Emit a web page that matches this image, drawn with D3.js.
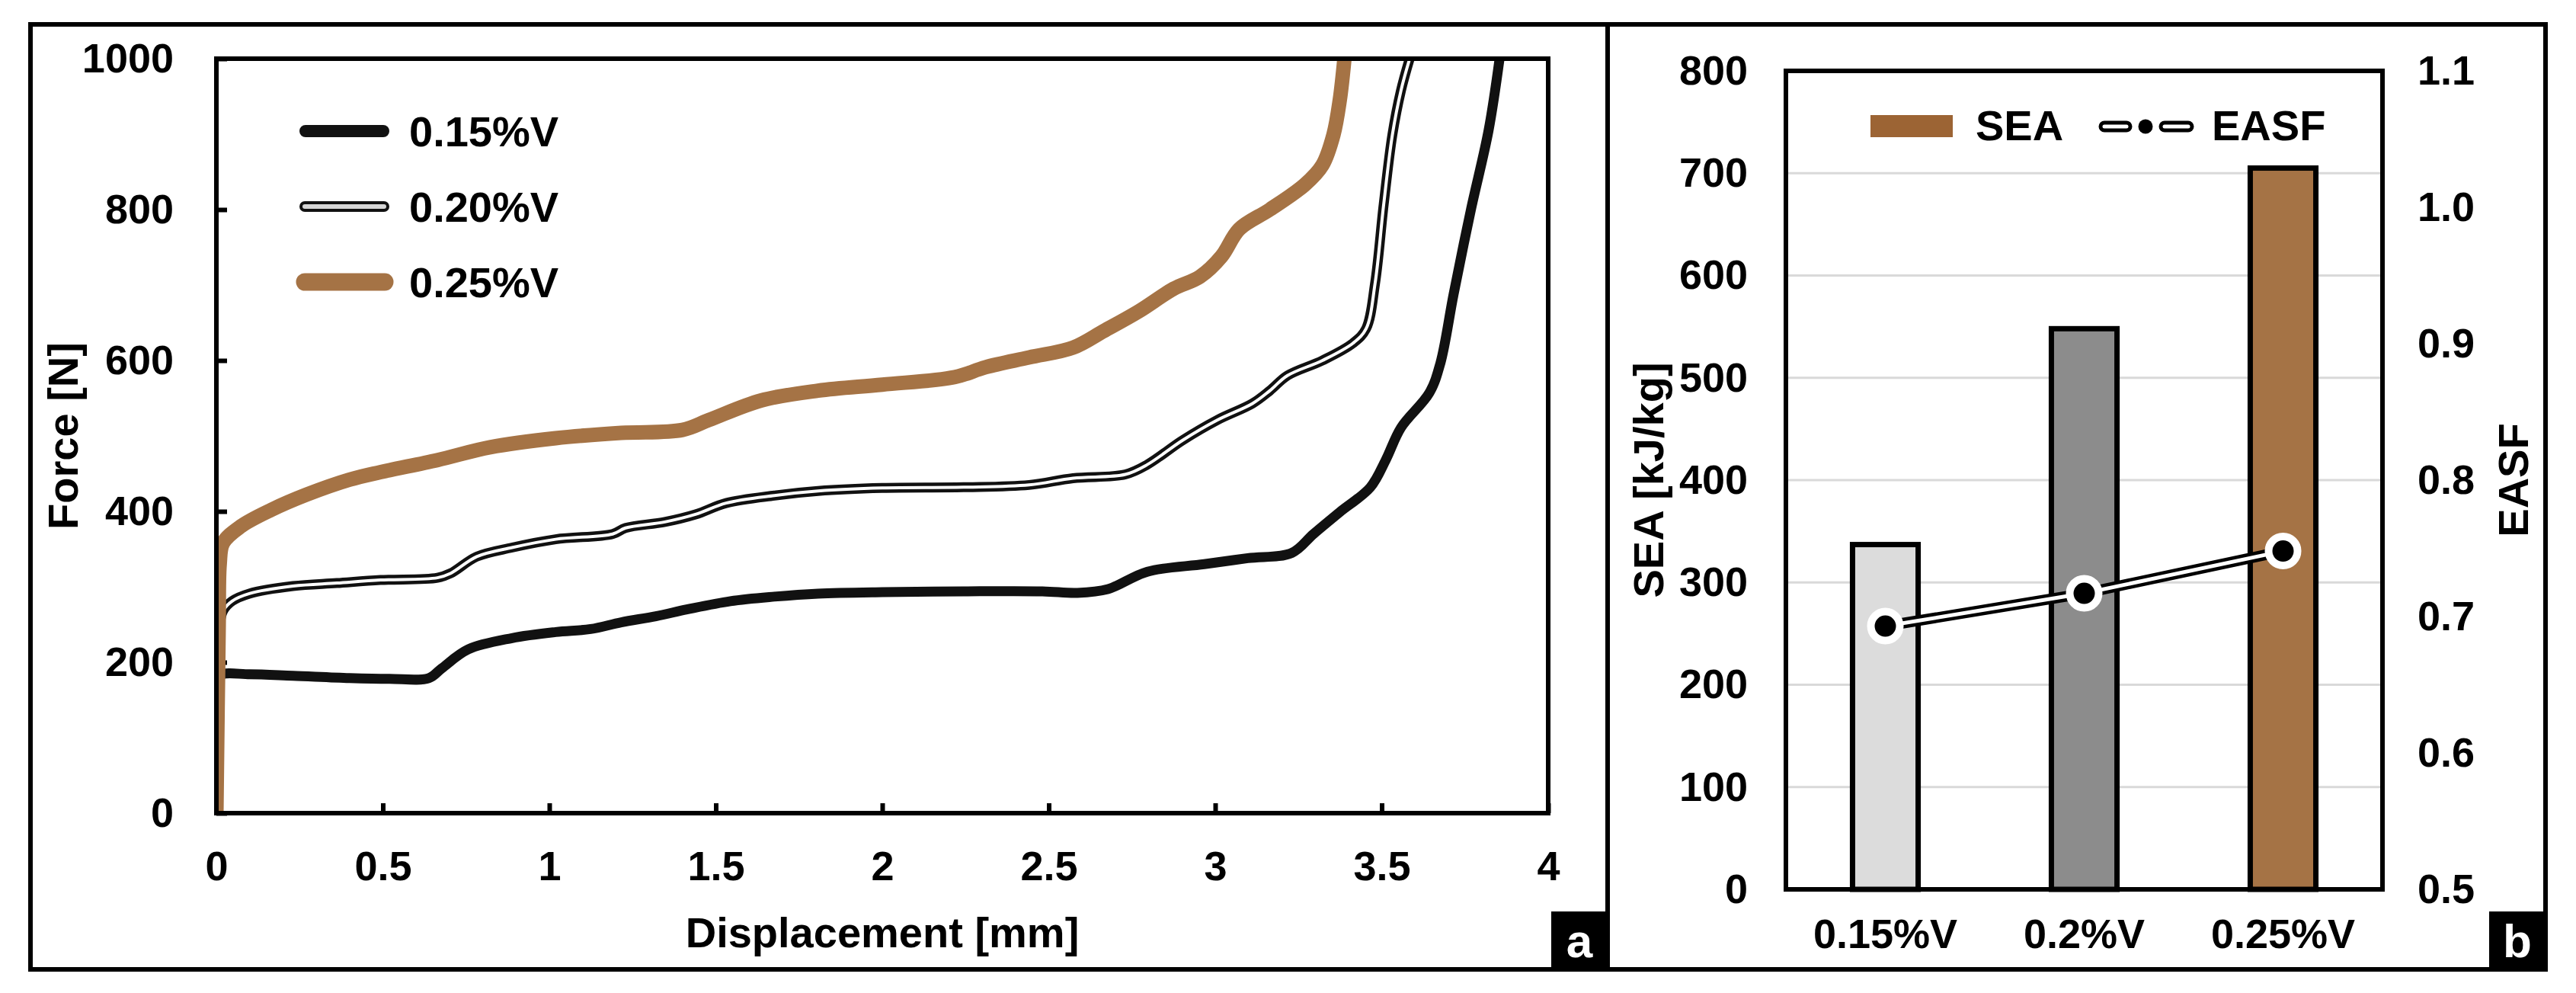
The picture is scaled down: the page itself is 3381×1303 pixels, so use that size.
<!DOCTYPE html>
<html>
<head>
<meta charset="utf-8">
<script src="https://d3js.org/d3.v7.min.js"></script>
<style>
  body { margin: 0; background: #fff; }
  svg text { font-family: Arial, "Liberation Sans", sans-serif; fill: #000; }
  .tick text { font-size: 54px; font-weight: bold; }
  .title { font-size: 56px; font-weight: bold; }
  .legend { font-size: 56px; font-weight: bold; }
</style>
</head>
<body>
<svg id="fig" width="3381" height="1303"></svg>
<script>
// ---- panel a: force vs displacement ----
var disp015 = [0, 0.007, 0.015, 0.1, 0.23, 0.4, 0.52, 0.638, 0.677, 0.756, 0.888, 1.019, 1.124, 1.216, 1.32, 1.413, 1.544, 1.676, 1.807, 2.0, 2.244, 2.481, 2.586, 2.678, 2.796, 2.967, 3.098, 3.23, 3.295, 3.374, 3.466, 3.512, 3.558, 3.643, 3.676, 3.716, 3.768, 3.821, 3.854];
var force015 = [0, 170, 183, 184, 182, 179, 178, 179, 192, 217, 232, 240, 244, 253, 261, 270, 281, 287, 291, 293, 294, 294, 292, 297, 320, 330, 338, 345, 370, 399, 432, 468, 511, 557, 596, 688, 800, 905, 1000];

var disp020 = [0, 0.007, 0.01, 0.02, 0.047, 0.099, 0.23, 0.362, 0.493, 0.664, 0.704, 0.782, 0.888, 1.019, 1.19, 1.229, 1.347, 1.439, 1.531, 1.676, 1.807, 2.0, 2.244, 2.441, 2.573, 2.73, 2.796, 2.901, 3.006, 3.112, 3.164, 3.217, 3.322, 3.414, 3.453, 3.48, 3.506, 3.532, 3.558, 3.584];
var force020 = [0, 200, 250, 268, 281, 291, 301, 305, 309, 312, 318, 340, 352, 363, 370, 378, 386, 396, 411, 421, 427, 431, 432, 435, 444, 449, 462, 494, 521, 543, 560, 580, 600, 623, 642, 702, 807, 899, 958, 1000];

var disp025 = [0, 0.007, 0.01, 0.02, 0.073, 0.165, 0.27, 0.40, 0.493, 0.664, 0.822, 1.019, 1.216, 1.40, 1.479, 1.636, 1.807, 2.0, 2.218, 2.31, 2.441, 2.573, 2.665, 2.77, 2.875, 2.954, 3.019, 3.072, 3.164, 3.269, 3.322, 3.355, 3.374, 3.388];
var force025 = [0, 250, 330, 358, 380, 402, 422, 442, 452, 468, 485, 497, 504, 508, 521, 547, 560, 568, 578, 591, 604, 617, 639, 665, 695, 711, 738, 774, 800, 833, 859, 899, 945, 1000];

var seriesNames = ["0.15%V", "0.20%V", "0.25%V"];
var xTicksA = [0, 0.5, 1, 1.5, 2, 2.5, 3, 3.5, 4];
var yTicksA = [0, 200, 400, 600, 800, 1000];

// ---- panel b: SEA bars + EASF line ----
var categories = ["0.15%V", "0.2%V", "0.25%V"];
var seaValues = [337, 548, 705];
var easfValues = [0.693, 0.717, 0.748];
var barColors = ["#dcdcdc", "#8c8c8c", "#a57345"];
var yTicksSEA = [0, 100, 200, 300, 400, 500, 600, 700, 800];
var yTicksEASF = [0.5, 0.6, 0.7, 0.8, 0.9, 1.0, 1.1];

var brown = "#a57345";
var svg = d3.select("#fig");

// outer figure frame with divider
svg.append("rect").attr("x", 40).attr("y", 32).attr("width", 3301).attr("height", 1240)
  .attr("fill", "none").attr("stroke", "#000").attr("stroke-width", 6);
svg.append("line").attr("x1", 2110).attr("x2", 2110).attr("y1", 32).attr("y2", 1272)
  .attr("stroke", "#000").attr("stroke-width", 6);

// ================= panel a =================
var xA = d3.scaleLinear().domain([0, 4]).range([284, 2032]);
var yA = d3.scaleLinear().domain([0, 1000]).range([1067, 77]);

svg.append("clipPath").attr("id", "clipA").append("rect")
  .attr("x", 284).attr("y", 77).attr("width", 1748).attr("height", 990);

var gA = svg.append("g");

gA.append("g").attr("transform", "translate(284,0)")
  .call(d3.axisLeft(yA).tickValues(yTicksA).tickSize(-14).tickPadding(56).tickFormat(d3.format("d")))
  .call(function(g) { g.select(".domain").remove(); })
  .call(function(g) { g.selectAll(".tick line").attr("stroke-width", 6); })
  .call(function(g) { g.selectAll(".tick text").attr("font-family", null).attr("font-size", null); });

gA.append("g").attr("transform", "translate(0,1067)")
  .call(d3.axisBottom(xA).tickValues(xTicksA).tickSize(-13).tickPadding(50).tickFormat(d3.format("")))
  .call(function(g) { g.select(".domain").remove(); })
  .call(function(g) { g.selectAll(".tick line").attr("stroke-width", 6); })
  .call(function(g) { g.selectAll(".tick text").attr("font-family", null).attr("font-size", null); });

var lineA = d3.line()
  .x(function(d) { return xA(d[0]); })
  .y(function(d) { return yA(d[1]); })
  .curve(d3.curveCatmullRom.alpha(0.5));

var pts015 = d3.zip(disp015, force015);
var pts020 = d3.zip(disp020, force020);
var pts025 = d3.zip(disp025, force025);

var curves = gA.append("g").attr("clip-path", "url(#clipA)");
curves.append("path").datum(pts015).attr("d", lineA)
  .attr("fill", "none").attr("stroke", "#111").attr("stroke-width", 13);
curves.append("path").datum(pts020).attr("d", lineA)
  .attr("fill", "none").attr("stroke", "#111").attr("stroke-width", 13);
curves.append("path").datum(pts020).attr("d", lineA)
  .attr("fill", "none").attr("stroke", "#fff").attr("stroke-width", 4);
curves.append("path").datum(pts025).attr("d", lineA)
  .attr("fill", "none").attr("stroke", brown).attr("stroke-width", 19);

// plot border
gA.append("rect").attr("x", 284).attr("y", 77).attr("width", 1748).attr("height", 990)
  .attr("fill", "none").attr("stroke", "#000").attr("stroke-width", 6);

// legend a
var legY = [172, 271, 370];
var legA = gA.append("g");
legA.append("line").attr("x1", 401).attr("x2", 503).attr("y1", legY[0]).attr("y2", legY[0])
  .attr("stroke", "#111").attr("stroke-width", 16).attr("stroke-linecap", "round");
legA.append("line").attr("x1", 400).attr("x2", 504).attr("y1", legY[1]).attr("y2", legY[1])
  .attr("stroke", "#111").attr("stroke-width", 14).attr("stroke-linecap", "round");
legA.append("line").attr("x1", 400).attr("x2", 504).attr("y1", legY[1]).attr("y2", legY[1])
  .attr("stroke", "#d6d6d6").attr("stroke-width", 6).attr("stroke-linecap", "round");
legA.append("line").attr("x1", 400).attr("x2", 505).attr("y1", legY[2]).attr("y2", legY[2])
  .attr("stroke", brown).attr("stroke-width", 23).attr("stroke-linecap", "round");
legA.selectAll("text.legend").data(seriesNames).enter().append("text")
  .attr("class", "legend").attr("x", 537)
  .attr("y", function(d, i) { return legY[i] + 20; })
  .text(function(d) { return d; });

gA.append("text").attr("class", "title").attr("text-anchor", "middle")
  .attr("transform", "translate(102,572) rotate(-90)").text("Force [N]");
gA.append("text").attr("class", "title").attr("text-anchor", "middle")
  .attr("x", 1158).attr("y", 1243).text("Displacement [mm]");

// panel tag a
svg.append("rect").attr("x", 2036).attr("y", 1196).attr("width", 74).attr("height", 76).attr("fill", "#000");
svg.append("text").attr("x", 2073).attr("y", 1256).attr("text-anchor", "middle")
  .style("fill", "#fff").style("font-size", "62px").style("font-weight", "bold").text("a");

// ================= panel b =================
var xB = d3.scaleBand().domain(categories).range([2344, 3127]);
var yB = d3.scaleLinear().domain([0, 800]).range([1167, 93]);
var yB2 = d3.scaleLinear().domain([0.5, 1.1]).range([1167, 93]);
var barW = xB.bandwidth() * 0.33;

var gB = svg.append("g");

gB.selectAll("line.grid").data(yTicksSEA.slice(1, -1)).enter().append("line")
  .attr("class", "grid")
  .attr("x1", 2344).attr("x2", 3127)
  .attr("y1", function(d) { return yB(d); }).attr("y2", function(d) { return yB(d); })
  .attr("stroke", "#d9d9d9").attr("stroke-width", 3);

gB.append("g").attr("transform", "translate(2344,0)")
  .call(d3.axisLeft(yB).tickValues(yTicksSEA).tickSize(0).tickPadding(50))
  .call(function(g) { g.select(".domain").remove(); })
  .call(function(g) { g.selectAll(".tick text").attr("font-family", null).attr("font-size", null); });

gB.append("g").attr("transform", "translate(3127,0)")
  .call(d3.axisRight(yB2).tickValues(yTicksEASF).tickSize(0).tickPadding(46).tickFormat(d3.format(".1f")))
  .call(function(g) { g.select(".domain").remove(); })
  .call(function(g) { g.selectAll(".tick text").attr("font-family", null).attr("font-size", null); });

gB.append("g").attr("transform", "translate(0,1167)")
  .call(d3.axisBottom(xB).tickSize(0).tickPadding(39))
  .call(function(g) { g.select(".domain").remove(); })
  .call(function(g) { g.selectAll(".tick text").attr("font-family", null).attr("font-size", null); });

gB.selectAll("rect.bar").data(seaValues).enter().append("rect")
  .attr("class", "bar")
  .attr("x", function(d, i) { return xB(categories[i]) + xB.bandwidth() / 2 - barW / 2; })
  .attr("y", function(d) { return yB(d); })
  .attr("width", barW)
  .attr("height", function(d) { return yB(0) - yB(d); })
  .attr("fill", function(d, i) { return barColors[i]; })
  .attr("stroke", "#000").attr("stroke-width", 7);

var lineB = d3.line()
  .x(function(d, i) { return xB(categories[i]) + xB.bandwidth() / 2; })
  .y(function(d) { return yB2(d); });

gB.append("path").datum(easfValues).attr("d", lineB)
  .attr("fill", "none").attr("stroke", "#000").attr("stroke-width", 14);
gB.append("path").datum(easfValues).attr("d", lineB)
  .attr("fill", "none").attr("stroke", "#fff").attr("stroke-width", 5);

gB.selectAll("circle.pt").data(easfValues).enter().append("circle")
  .attr("class", "pt")
  .attr("cx", function(d, i) { return xB(categories[i]) + xB.bandwidth() / 2; })
  .attr("cy", function(d) { return yB2(d); })
  .attr("r", 19)
  .attr("fill", "#000").attr("stroke", "#fff").attr("stroke-width", 10);

gB.append("rect").attr("x", 2344).attr("y", 93).attr("width", 783).attr("height", 1074)
  .attr("fill", "none").attr("stroke", "#000").attr("stroke-width", 6);

// legend b
gB.append("rect").attr("x", 2455).attr("y", 151).attr("width", 108).attr("height", 29).attr("fill", "#9c6434");
gB.append("text").attr("class", "legend").attr("x", 2593).attr("y", 184).text("SEA");
[[2762, 2791], [2841, 2872]].forEach(function(s) {
  gB.append("line").attr("x1", s[0]).attr("x2", s[1]).attr("y1", 166).attr("y2", 166)
    .attr("stroke", "#000").attr("stroke-width", 15).attr("stroke-linecap", "round");
  gB.append("line").attr("x1", s[0]).attr("x2", s[1]).attr("y1", 166).attr("y2", 166)
    .attr("stroke", "#fff").attr("stroke-width", 5).attr("stroke-linecap", "round");
});
gB.append("circle").attr("cx", 2816).attr("cy", 166).attr("r", 9.5).attr("fill", "#000");
gB.append("text").attr("class", "legend").attr("x", 2903).attr("y", 184).text("EASF");

gB.append("text").attr("class", "title").attr("text-anchor", "middle")
  .attr("transform", "translate(2183,630) rotate(-90)").text("SEA [kJ/kg]");
gB.append("text").attr("class", "title").attr("text-anchor", "middle")
  .attr("transform", "translate(3318,630) rotate(-90)").text("EASF");

// panel tag b
svg.append("rect").attr("x", 3267).attr("y", 1196).attr("width", 74).attr("height", 76).attr("fill", "#000");
svg.append("text").attr("x", 3304).attr("y", 1256).attr("text-anchor", "middle")
  .style("fill", "#fff").style("font-size", "62px").style("font-weight", "bold").text("b");
</script>
</body>
</html>
